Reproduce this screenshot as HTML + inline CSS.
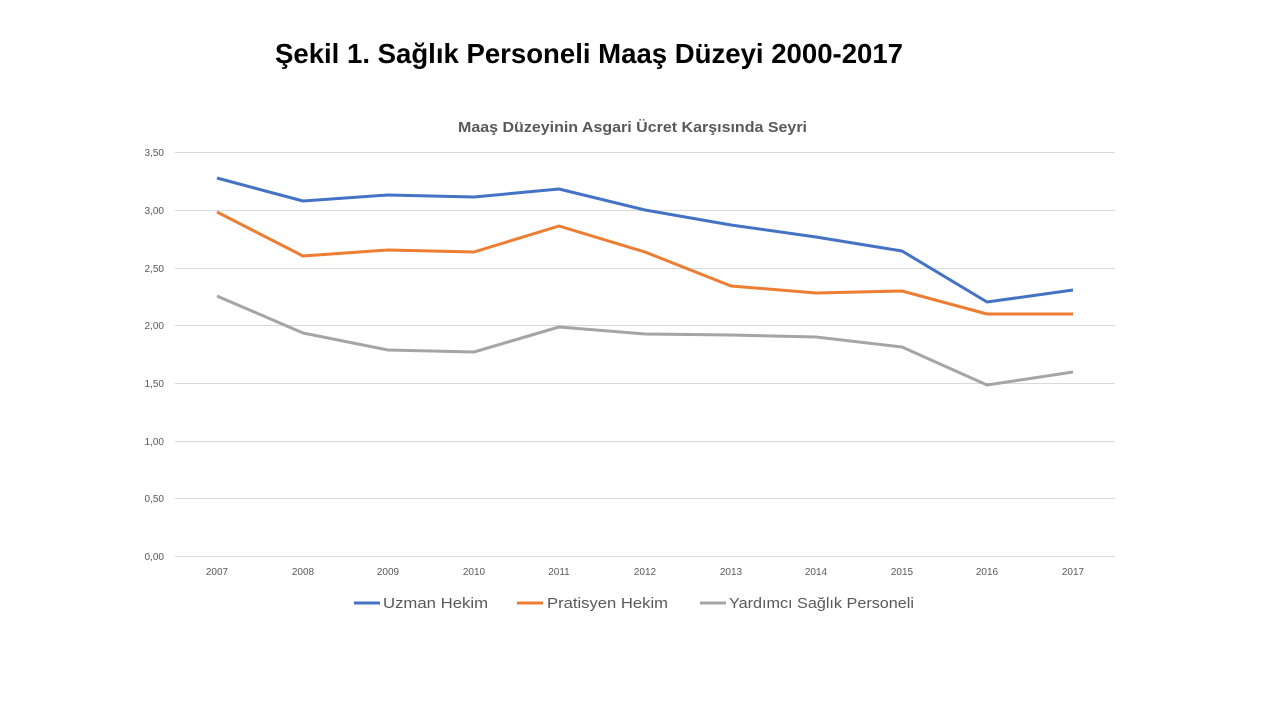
<!DOCTYPE html>
<html><head><meta charset="utf-8"><style>
body{margin:0;width:1280px;height:720px;background:#fff;overflow:hidden;font-family:"Liberation Sans",Arial,sans-serif}
</style></head><body>
<svg width="1280" height="720" xmlns="http://www.w3.org/2000/svg" font-family="Liberation Sans, Arial, sans-serif">
<text x="275" y="63" font-size="28" font-weight="bold" fill="#000" textLength="628" lengthAdjust="spacingAndGlyphs">Şekil 1. Sağlık Personeli Maaş Düzeyi 2000-2017</text>
<text x="458" y="132" font-size="15" font-weight="bold" fill="#595959" textLength="349" lengthAdjust="spacingAndGlyphs">Maaş Düzeyinin Asgari Ücret Karşısında Seyri</text>
<g stroke="#d9d9d9" stroke-width="1">
<line x1="175" x2="1115" y1="152.5" y2="152.5"/><line x1="175" x2="1115" y1="210.5" y2="210.5"/>
<line x1="175" x2="1115" y1="268.5" y2="268.5"/><line x1="175" x2="1115" y1="325.5" y2="325.5"/>
<line x1="175" x2="1115" y1="383.5" y2="383.5"/><line x1="175" x2="1115" y1="441.5" y2="441.5"/>
<line x1="175" x2="1115" y1="498.5" y2="498.5"/><line x1="175" x2="1115" y1="556.5" y2="556.5"/>
</g>
<g font-size="10" fill="#595959" text-anchor="end">
<text x="164" y="156">3,50</text><text x="164" y="214">3,00</text><text x="164" y="272">2,50</text>
<text x="164" y="329">2,00</text><text x="164" y="387">1,50</text><text x="164" y="445">1,00</text>
<text x="164" y="502">0,50</text><text x="164" y="560">0,00</text>
</g>
<g font-size="10" fill="#595959" text-anchor="middle">
<text x="217" y="575">2007</text><text x="303" y="575">2008</text><text x="388" y="575">2009</text>
<text x="474" y="575">2010</text><text x="559" y="575">2011</text><text x="645" y="575">2012</text>
<text x="731" y="575">2013</text><text x="816" y="575">2014</text><text x="902" y="575">2015</text>
<text x="987" y="575">2016</text><text x="1073" y="575">2017</text>
</g>
<g fill="none" stroke-width="3" stroke-linejoin="round">
<polyline stroke="#4472c4" points="217,178 303,201 388,195 474,197 559,189 645,210 731,225 816,237 902,251 987,302 1073,290"/>
<polyline stroke="#ed7d31" points="217,212 303,256 388,250 474,252 559,226 645,252 731,286 816,293 902,291 987,314 1073,314"/>
<polyline stroke="#a5a5a5" points="217,296 303,333 388,350 474,352 559,327 645,334 731,335 816,337 902,347 987,385 1073,372"/>
</g>
<g font-size="15" fill="#595959">
<line x1="354" x2="380" y1="603" y2="603" stroke="#4472c4" stroke-width="3"/><text x="383" y="608" textLength="105" lengthAdjust="spacingAndGlyphs">Uzman Hekim</text>
<line x1="517" x2="543" y1="603" y2="603" stroke="#ed7d31" stroke-width="3"/><text x="547" y="608" textLength="121" lengthAdjust="spacingAndGlyphs">Pratisyen Hekim</text>
<line x1="700" x2="726" y1="603" y2="603" stroke="#a5a5a5" stroke-width="3"/><text x="729" y="608" textLength="185" lengthAdjust="spacingAndGlyphs">Yardımcı Sağlık Personeli</text>
</g>
</svg>
</body></html>
